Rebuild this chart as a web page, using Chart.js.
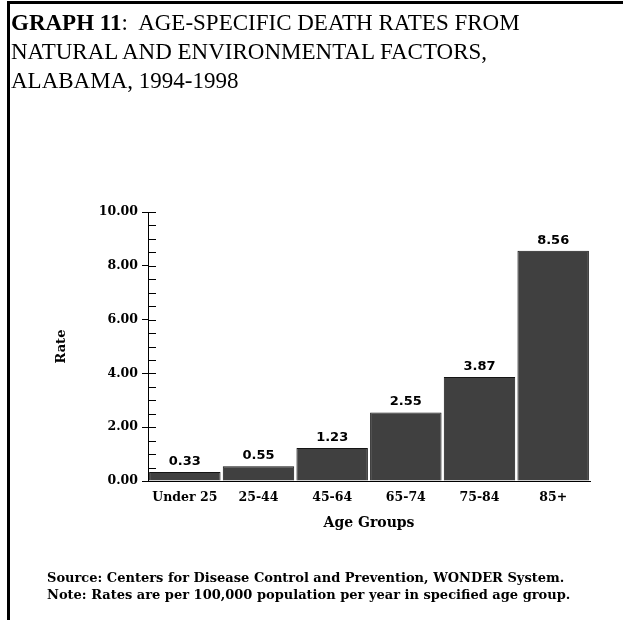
<!DOCTYPE html>
<html>
<head>
<meta charset="utf-8">
<script src="https://cdn.jsdelivr.net/npm/chart.js@4.4.0/dist/chart.umd.min.js"></script>
<style>
  body { margin: 0; background: #fff; }
  #wrap { position: relative; width: 623px; height: 620px; overflow: hidden; }
  #topline { position: absolute; left: 7px; top: 1px; width: 616px; height: 3px; background: #000; }
  #leftline { position: absolute; left: 7px; top: 1px; width: 3px; height: 619px; background: #000; }
  #title { position: absolute; left: 11px; top: 8px; font: 23px "Liberation Serif", serif; line-height: 29px; color: #000; }
  #footer { position: absolute; left: 47px; top: 569px; font: bold 13px "DejaVu Serif", serif; line-height: 17px; color: #000; }
  canvas { position: absolute; left: 0; top: 0; }
</style>
</head>
<body>
<div id="wrap">
  <canvas id="myChart" width="623" height="620"></canvas>
  <div id="topline"></div>
  <div id="leftline"></div>
  <div id="title"><b>GRAPH 11</b>:&nbsp; AGE-SPECIFIC DEATH RATES FROM<br>NATURAL AND ENVIRONMENTAL FACTORS,<br>ALABAMA, 1994-1998</div>
  <div id="footer">Source: Centers for Disease Control and Prevention, WONDER System.<br>Note: Rates are per 100,000 population per year in specified age group.</div>
</div>
<script>
// Age groups and rates
const ageGroups = ['Under 25', '25-44', '45-64', '65-74', '75-84', '85+'];
const rates = [0.33, 0.55, 1.23, 2.55, 3.87, 8.56];

const tickFont = { family: 'DejaVu Serif', size: 12.5, weight: 'bold' };

// value labels above each bar
const barLabels = {
    id: 'barLabels',
    afterDatasetsDraw(chart) {
        const ctx = chart.ctx;
        const meta = chart.getDatasetMeta(0);
        ctx.save();
        ctx.fillStyle = '#000';
        ctx.font = 'bold 13px "DejaVu Sans", sans-serif';
        ctx.textAlign = 'center';
        ctx.textBaseline = 'bottom';
        meta.data.forEach((bar, i) => {
            ctx.fillText(rates[i].toFixed(2), bar.x, bar.y - 4);
        });
        ctx.restore();
    }
};

// short ticks pointing into the plot, for every 0.5 step
const innerTicks = {
    id: 'innerTicks',
    afterDraw(chart) {
        const ctx = chart.ctx;
        const y = chart.scales.y;
        const left = chart.chartArea.left;
        ctx.save();
        ctx.strokeStyle = '#000';
        ctx.lineWidth = 1;
        y.ticks.forEach(t => {
            const py = Math.round(y.getPixelForValue(t.value)) + 0.5;
            ctx.beginPath();
            ctx.moveTo(left, py);
            ctx.lineTo(left + 8, py);
            ctx.stroke();
        });
        ctx.restore();
    }
};

new Chart(document.getElementById('myChart'), {
    type: 'bar',
    data: {
        labels: ageGroups,
        datasets: [{
            data: rates,
            backgroundColor: '#404040',
            borderColor: '#141414',
            borderWidth: 1,
            barPercentage: 0.97,
            categoryPercentage: 1
        }]
    },
    options: {
        responsive: false,
        animation: false,
        layout: { padding: { left: 50, right: 33, top: 212, bottom: 84 } },
        plugins: {
            legend: { display: false },
            tooltip: { enabled: false }
        },
        scales: {
            x: {
                afterFit: s => { s.height = 55; },
                grid: { display: false, drawTicks: false },
                border: { color: '#000', width: 1 },
                ticks: { color: '#000', font: tickFont, padding: 9, maxRotation: 0 },
                title: { display: true, text: 'Age Groups', color: '#000',
                         font: { family: 'DejaVu Serif', size: 14, weight: 'bold' }, padding: 4 }
            },
            y: {
                min: 0,
                max: 10,
                afterFit: s => { s.width = 98; },
                grid: {
                    drawOnChartArea: false,
                    tickLength: 6,
                    tickColor: c => (c.tick && c.tick.value % 2 === 0) ? '#000' : 'rgba(0,0,0,0)'
                },
                border: { color: '#000', width: 1 },
                ticks: {
                    stepSize: 0.5,
                    autoSkip: false,
                    color: '#000',
                    font: tickFont,
                    padding: 4,
                    callback: v => (v % 2 === 0) ? v.toFixed(2) : ''
                },
                title: { display: true, text: 'Rate', color: '#000',
                         font: { family: 'DejaVu Serif', size: 13, weight: 'bold' }, padding: 4 }
            }
        }
    },
    plugins: [barLabels, innerTicks]
});
</script>
</body>
</html>
